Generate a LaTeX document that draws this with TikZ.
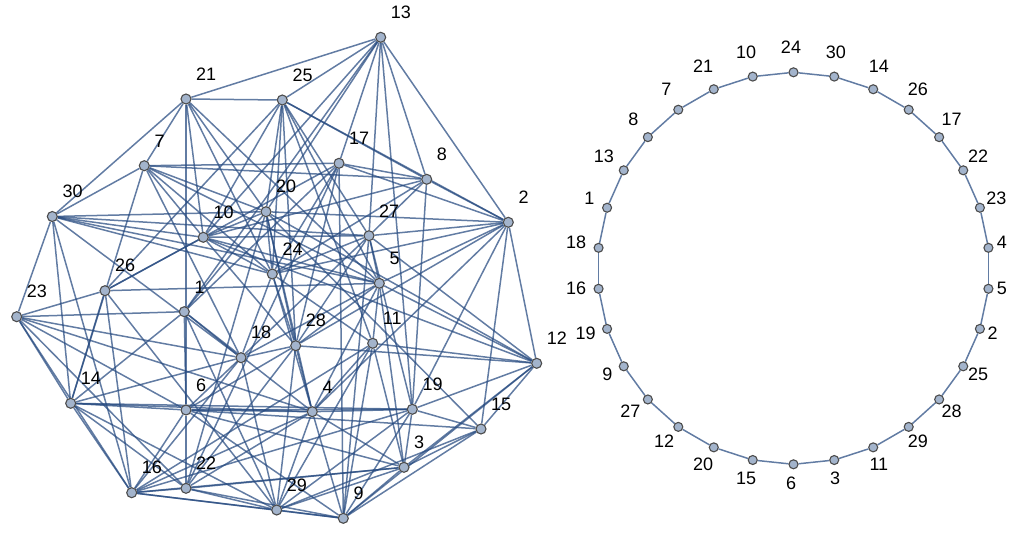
\documentclass[tikz,border=0pt]{standalone}
\usepackage{fontspec}
\setmainfont{Liberation Sans}
\usetikzlibrary{calc}
\definecolor{edgecol}{rgb}{0.15,0.29,0.5}
\definecolor{vertcol}{rgb}{0.64,0.704,0.8}
\pgfdeclarelayer{edges}
\pgfsetlayers{edges,main}

\begin{document}
\begin{tikzpicture}[x=1pt,y=-1pt,
  font=\fontsize{18}{20}\selectfont,
  vtx/.style={circle,draw=black!70,fill=vertcol,line width=1.1pt,
              inner sep=0pt,minimum size=10pt},
  rvtx/.style={vtx,minimum size=9pt},
  edge/.style={draw=edgecol,draw opacity=0.72,line width=1.5pt},
  lbl/.style={inner sep=0pt,anchor=south west},
]
\useasboundingbox (0,0) rectangle (1010,536);

% left: the whole graph
\foreach \n/\x/\y in {1/184.3/311.7, 2/508.3/222.3, 3/404/467.3,
    4/312.3/411.7, 5/379.3/283.3, 6/186/410, 7/144.3/165.7,
    8/426.7/179.3, 9/343.3/518.3, 10/203.3/237.3, 11/372.7/343.3,
    12/536.7/363.3, 13/380.7/37.3, 14/70.7/403.3, 15/481/429,
    16/131.7/492.7, 17/339/163.3, 18/241/357.7, 19/412.3/409.3,
    20/266/211.7, 21/186/99, 22/186/488.3, 23/16.7/316.7,
    24/272.3/274, 25/282.3/100, 26/105/290.7, 27/369/235.7,
    28/295.7/345.7, 29/276.7/510, 30/52.3/216.5}{
  \node[vtx] (l\n) at (\x,\y) {};
  \node[lbl] (t\n) at ([shift={(10,-18.5)}]l\n.center) {\n};
}

\begin{pgfonlayer}{edges}
% the hamiltonian cycle, as found
\foreach \a/\b in {24/30,30/14,14/26,26/17,17/22,22/23,23/4,4/5,5/2,
    2/25,25/28,28/29,29/11,11/3,3/6,6/15,15/20,20/12,12/27,27/9,9/19,
    19/16,16/18,18/1,1/13,13/8,8/7,7/21,21/10,10/24}
  \draw[edge] (l\a) -- (l\b);
% all the other edges
\foreach \a/\b in {13/21,13/25,13/2,13/27,13/10,13/17,13/20,13/19,
    25/21,25/10,25/26,25/20,25/24,25/27,25/5,25/11,25/8,
    21/30,21/6,21/24,21/5,21/20,
    7/30,7/17,7/10,7/20,7/24,7/5,7/14,7/18,
    30/23,30/20,30/27,30/10,30/5,30/18,30/16,
    2/17,2/27,2/20,2/24,2/28,2/12,2/15,2/19,2/4,8/2,
    8/17,8/19,8/10,8/24,8/27,
    17/24,17/28,17/9,17/1,
    20/10,20/24,20/28,20/22,20/4,
    10/27,10/12,10/28,10/5,10/26,
    27/5,27/18,27/28,27/24,27/19,
    24/28,24/11,24/4,24/18,
    5/12,5/28,5/18,5/11,5/3,5/26,
    26/23,26/16,26/29,
    23/14,23/16,23/6,23/18,
    1/6,1/4,1/14,1/20,1/23,1/29,
    18/28,18/29,18/14,18/6,
    28/12,28/4,28/22,28/6,
    11/12,11/16,11/4,11/9,
    14/6,14/19,14/4,14/22,14/16,14/29,
    6/22,6/16,6/4,6/9,6/19,
    4/19,4/16,4/22,4/9,4/29,4/3,
    19/12,19/15,19/3,19/29,
    12/15,12/3,12/9,
    15/3,15/9,15/29,
    3/9,3/29,3/22,3/16,
    16/22,16/29,16/9,
    22/29,22/9,
    29/9}
  \draw[edge] (l\a) -- (l\b);
\end{pgfonlayer}

% right: the cycle on its own
\foreach \n [count=\k from 0] in {24,30,14,26,17,22,23,4,5,2,25,28,29,11,
    3,6,15,20,12,27,9,19,16,18,1,13,8,7,21,10}{
  \pgfmathsetmacro\ax{ifthenelse(\n<10,16,20)}
  \node[rvtx] (r\n) at ($(793.5,268.3)+(12*\k-90:196)$) {};
  \node (s\n) at ($(r\n)+({\ax*sin(12*\k)-2.5},{-21.8*cos(12*\k)-2.8})$) {\n};
}
\begin{pgfonlayer}{edges}
\foreach \a/\b in {24/30,30/14,14/26,26/17,17/22,22/23,23/4,4/5,5/2,
    2/25,25/28,28/29,29/11,11/3,3/6,6/15,15/20,20/12,12/27,27/9,9/19,
    19/16,16/18,18/1,1/13,13/8,8/7,7/21,21/10,10/24}
  \draw[edge] (r\a) -- (r\b);
\end{pgfonlayer}
\end{tikzpicture}
\end{document}
